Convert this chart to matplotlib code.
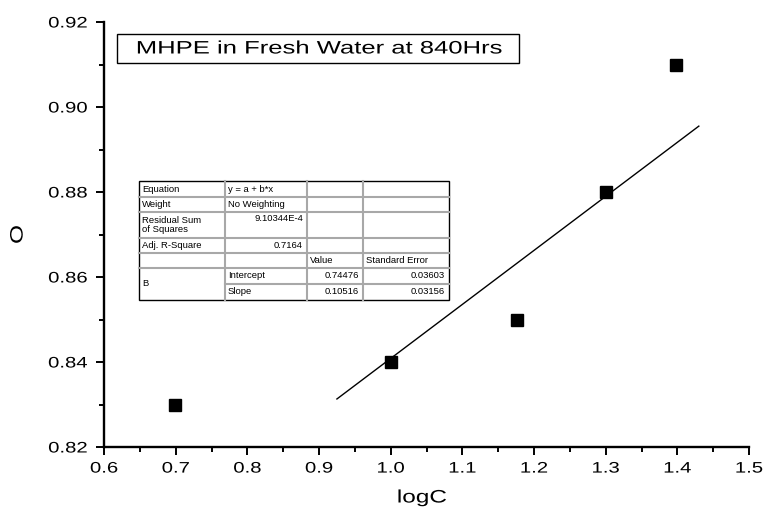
import matplotlib
matplotlib.use("Agg")
import matplotlib.pyplot as plt
from matplotlib.ticker import MultipleLocator
from matplotlib.lines import Line2D
from matplotlib.patches import Rectangle
from matplotlib.patheffects import AbstractPathEffect
from matplotlib.transforms import Affine2D

plt.rcParams["font.family"] = ["Liberation Sans", "DejaVu Sans"]

# DATA

log_c = [0.699, 1.0, 1.176, 1.301, 1.398]
o_vals = [0.83, 0.84, 0.85, 0.88, 0.91]

# drawn fit line (as it appears on the chart)
fit_x = [0.925, 1.43]
fit_y = [0.8313, 0.8955]

title_text = "MHPE in Fresh Water at 840Hrs"

table_rows = [
    ["Equation", "y = a + b*x", "", ""],
    ["Weight", "No Weighting", "", ""],
    ["Residual Sum\nof Squares", "9.10344E-4", "", ""],
    ["Adj. R-Square", "0.7164", "", ""],
    ["", "", "Value", "Standard Error"],
    ["B", "Intercept", "0.74476", "0.03603"],
    ["", "Slope", "0.10516", "0.03156"],
]


# the original export uses horizontally stretched text
class Stretch(AbstractPathEffect):
    def __init__(self, sx, anchor=0.5):
        super().__init__()
        self.sx = sx
        self.anchor = anchor

    def draw_path(self, renderer, gc, tpath, affine, rgbFace=None):
        ext = tpath.get_extents()
        x0 = ext.x0 + self.anchor * ext.width
        t = Affine2D().translate(-x0, 0).scale(self.sx, 1).translate(x0, 0) + affine
        renderer.draw_path(gc, tpath, t, rgbFace)


# FIGURE

W, H = 765, 511
fig = plt.figure(figsize=(W / 100, H / 100), dpi=100)
ax = fig.add_axes([104 / W, 1 - 447 / H, (749 - 104) / W, (447 - 22) / H])

ax.plot(fit_x, fit_y, color="black", linewidth=1)
ax.plot(log_c, o_vals, linestyle="none", marker="s", markersize=8.3,
        color="black")

ax.set_xlim(0.6, 1.5)
ax.set_ylim(0.82, 0.92)
ax.xaxis.set_major_locator(MultipleLocator(0.1))
ax.xaxis.set_minor_locator(MultipleLocator(0.05))
ax.yaxis.set_major_locator(MultipleLocator(0.02))
ax.yaxis.set_minor_locator(MultipleLocator(0.01))
ax.xaxis.set_major_formatter(lambda v, p: f"{v:.1f}")
ax.yaxis.set_major_formatter(lambda v, p: f"{v:.2f}")

for s in ["top", "right"]:
    ax.spines[s].set_visible(False)
for s in ["left", "bottom"]:
    ax.spines[s].set_linewidth(1.7)

ax.tick_params(which="major", direction="out", length=5.5, width=1.4,
               labelsize=11)
ax.tick_params(axis="x", which="major", pad=5)
ax.tick_params(axis="y", which="major", pad=6.5)
ax.tick_params(which="minor", direction="out", length=3.5, width=1.4)

xl = ax.set_xlabel("logC", fontsize=13)
yl = ax.set_ylabel("O", fontsize=13)
ax.xaxis.set_label_coords(0.493, -0.1)
ax.yaxis.set_label_coords(-0.12, 0.5)
xl.set_path_effects([Stretch(1.35, 0.5)])
yl.set_path_effects([Stretch(1.35, 0.5)])


def fx(x):
    return x / W


def fy(y):
    return 1 - y / H


# title box
fig.add_artist(Rectangle((fx(117), fy(63)), (519 - 117) / W, (63 - 34) / H,
                         transform=fig.transFigure, fill=False,
                         edgecolor="black", linewidth=1))
t = fig.text(fx(319), fy(49), title_text, ha="center", va="center", fontsize=13)
t.set_path_effects([Stretch(1.42, 0.5)])

# FIT TABLE

col_edges = [139, 225, 307, 363, 449]
row_edges = [181, 197, 212, 238, 253, 268, 284, 300]
grid_color = "#a8a8a8"

# horizontal inner lines
for i in range(1, len(row_edges) - 1):
    x0 = col_edges[1] if i == 6 else col_edges[0]
    fig.add_artist(Line2D([fx(x0), fx(col_edges[-1])],
                          [fy(row_edges[i]), fy(row_edges[i])],
                          transform=fig.transFigure, color=grid_color,
                          linewidth=1.5))
# vertical inner lines
for j in range(1, len(col_edges) - 1):
    fig.add_artist(Line2D([fx(col_edges[j]), fx(col_edges[j])],
                          [fy(row_edges[0]), fy(row_edges[-1])],
                          transform=fig.transFigure, color=grid_color,
                          linewidth=1.5))
# outer border
fig.add_artist(Rectangle((fx(col_edges[0]), fy(row_edges[-1])),
                         (col_edges[-1] - col_edges[0]) / W,
                         (row_edges[-1] - row_edges[0]) / H,
                         transform=fig.transFigure, fill=False,
                         edgecolor="black", linewidth=1))


def is_num(t):
    try:
        float(t)
        return True
    except ValueError:
        return False


for i, row in enumerate(table_rows):
    for j, txt in enumerate(row):
        if not txt:
            continue
        y_top, y_bot = row_edges[i], row_edges[i + 1]
        if txt == "B":
            y_bot = row_edges[i + 2]
        if is_num(txt):
            x = col_edges[j + 1] - 4
            ha = "right"
        else:
            x = col_edges[j] + 3
            ha = "left"
        if i == 2 and j == 1:
            y = y_top + 2
            va = "top"
        else:
            y = (y_top + y_bot) / 2
            va = "center"
        fig.text(fx(x), fy(y), txt, ha=ha, va=va, fontsize=6.8,
                 linespacing=0.95)

# stretch the tick labels too
fig.canvas.draw()
for lab in ax.get_xticklabels():
    lab.set_path_effects([Stretch(1.33, 0.5)])
for lab in ax.get_yticklabels():
    lab.set_path_effects([Stretch(1.33, 1.0)])

fig.savefig("out.png", dpi=100)
